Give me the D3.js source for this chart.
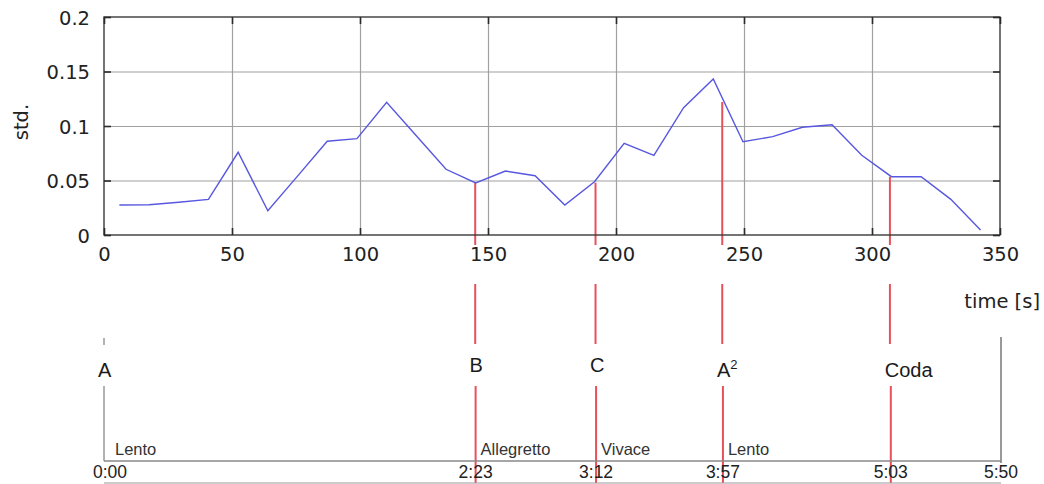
<!DOCTYPE html>
<html>
<head>
<meta charset="utf-8">
<script src="https://cdn.jsdelivr.net/npm/d3@7"></script>
<style>
  body { margin: 0; background: #fff; }
  svg { display: block; }
</style>
</head>
<body>
<svg width="1044" height="484"></svg>
<script>
// std. of the signal over time (seconds)
var timeSec = [6, 17.6, 29.2, 40.8, 52.4, 64, 75.6, 87.2, 98.8, 110.4, 122, 133.6, 145.2, 156.8, 168.4,
               180, 191.6, 203.2, 214.8, 226.4, 238, 249.6, 261.2, 272.8, 284.4, 296, 307.6, 319.2, 330.8, 342.4];
var stdVal  = [0.0275, 0.0278, 0.030, 0.0327, 0.0759, 0.0223, 0.054, 0.086, 0.0884, 0.1217, 0.091, 0.0603, 0.0477, 0.0587, 0.0544,
               0.0275, 0.0489, 0.0841, 0.0731, 0.1168, 0.1431, 0.0856, 0.0902, 0.0988, 0.1012, 0.0731, 0.0535, 0.0535, 0.0327, 0.0046];

var xTicks = [0, 50, 100, 150, 200, 250, 300, 350];
var yTicks = [0, 0.05, 0.1, 0.15, 0.2];

// section boundaries (red lines)
var markerSec = [145, 192, 241.5, 307];
var markerStd = [0.0477, 0.048, 0.122, 0.0535];

// timeline below
var sectionSec   = [0, 145, 192, 241.5, 307];
var sectionName  = ["A", "B", "C", "A2", "Coda"];
var tempoSec     = [0, 145, 192, 241.5];
var tempoName    = ["Lento", "Allegretto", "Vivace", "Lento"];
var timeLabelSec = [0, 145, 192, 241.5, 307, 350];
var timeLabel    = ["0:00", "2:23", "3:12", "3:57", "5:03", "5:50"];

var svg = d3.select("svg");
var margin = { top: 17, left: 104 },
    w = 896, h = 218;

var x = d3.scaleLinear().domain([0, 350]).range([0, w]);
var y = d3.scaleLinear().domain([0, 0.2]).range([h, 0]);

var g = svg.append("g").attr("transform", "translate(" + margin.left + "," + margin.top + ")");

// grid
g.append("g")
    .attr("transform", "translate(0," + h + ")")
    .call(d3.axisBottom(x).tickValues(xTicks.slice(1, -1)).tickSize(-h).tickFormat(""))
    .call(s => s.select(".domain").remove())
    .selectAll("line").attr("stroke", "#a0a0a0").attr("stroke-width", 1.2);
g.append("g")
    .call(d3.axisLeft(y).tickValues(yTicks.slice(1, -1)).tickSize(-w).tickFormat(""))
    .call(s => s.select(".domain").remove())
    .selectAll("line").attr("stroke", "#a0a0a0").attr("stroke-width", 1.2);

// red marker lines (upper part)
g.selectAll(".mk")
    .data(markerSec)
    .enter().append("line")
    .attr("x1", d => x(d)).attr("x2", d => x(d))
    .attr("y1", (d, i) => y(markerStd[i]))
    .attr("y2", h + 10)
    .attr("stroke", "#e8505a").attr("stroke-width", 2);

// data line
g.append("path")
    .datum(timeSec)
    .attr("fill", "none")
    .attr("stroke", "#5757e0")
    .attr("stroke-width", 1.4)
    .attr("d", d3.line().x(d => x(d)).y((d, i) => y(stdVal[i])));

// frame
g.append("rect").attr("width", w).attr("height", h)
    .attr("fill", "none").attr("stroke", "#3a3a3a").attr("stroke-width", 1.4);

// axes with inward ticks, mirrored
var tickFont = "'DejaVu Sans', sans-serif";
var xAx = g.append("g").attr("transform", "translate(0," + h + ")")
    .call(d3.axisBottom(x).tickValues(xTicks).tickSizeInner(-7).tickSizeOuter(0).tickPadding(26).tickFormat(String));
var yAx = g.append("g")
    .call(d3.axisLeft(y).tickValues(yTicks).tickSizeInner(-7).tickSizeOuter(0).tickPadding(14).tickFormat(String));
g.append("g").call(d3.axisTop(x).tickValues(xTicks).tickSizeInner(-7).tickSizeOuter(0).tickFormat(""));
g.append("g").attr("transform", "translate(" + w + ",0)")
    .call(d3.axisRight(y).tickValues(yTicks).tickSizeInner(-7).tickSizeOuter(0).tickFormat(""));

g.selectAll(".domain").remove();
g.selectAll(".tick line").filter(function() { return d3.select(this).attr("stroke") === "currentColor"; })
    .attr("stroke", "#2a2a2a").attr("stroke-width", 1.6);
g.selectAll(".tick text")
    .attr("font-family", tickFont).attr("font-size", "19.5px").attr("fill", "#222");
xAx.selectAll(".tick text").attr("dy", 0);
yAx.selectAll(".tick text").attr("dy", "0.36em");

svg.append("text")
    .attr("transform", "translate(28,122) rotate(-90)")
    .attr("text-anchor", "middle")
    .attr("font-family", tickFont).attr("font-size", "19.5px").attr("fill", "#222")
    .text("std.");
svg.append("text")
    .attr("x", 1040).attr("y", 308)
    .attr("text-anchor", "end")
    .attr("font-family", tickFont).attr("font-size", "19.5px").attr("fill", "#222")
    .text("time [s]");

// ---- timeline ----
var t = d3.scaleLinear().domain([0, 350]).range([104, 1001]);
var axisY = 461, lineFont = "'Liberation Sans', Arial, sans-serif";

// red lines through timeline
markerSec.forEach(function(d) {
    svg.append("line").attr("x1", x(d) + margin.left).attr("x2", x(d) + margin.left)
        .attr("y1", 284).attr("y2", 344)
        .attr("stroke", "#e8505a").attr("stroke-width", 2);
    svg.append("line").attr("x1", t(d)).attr("x2", t(d))
        .attr("y1", 386).attr("y2", 483)
        .attr("stroke", "#e8505a").attr("stroke-width", 2);
});

// gray boundary lines
svg.append("line").attr("x1", t(0)).attr("x2", t(0)).attr("y1", 338).attr("y2", 345)
    .attr("stroke", "#999").attr("stroke-width", 1.5);
svg.append("line").attr("x1", t(0)).attr("x2", t(0)).attr("y1", 386).attr("y2", axisY)
    .attr("stroke", "#999").attr("stroke-width", 1.5);
svg.append("line").attr("x1", t(350)).attr("x2", t(350)).attr("y1", 337).attr("y2", axisY + 2)
    .attr("stroke", "#777").attr("stroke-width", 1.5);

svg.append("line").attr("x1", t(0)).attr("x2", t(350)).attr("y1", axisY).attr("y2", axisY)
    .attr("stroke", "#888").attr("stroke-width", 1.5);
svg.append("line").attr("x1", t(0)).attr("x2", t(350)).attr("y1", 483).attr("y2", 483)
    .attr("stroke", "#999").attr("stroke-width", 1.2);

// section letters
var sec = svg.selectAll(".sec")
    .data(sectionSec)
    .enter().append("text")
    .attr("x", d => t(d) - 6)
    .attr("y", (d, i) => (i === 1 || i === 2) ? 372 : 377)
    .attr("font-family", lineFont).attr("font-size", "20px").attr("fill", "#1a1a1a");
sec.each(function(d, i) {
    var s = d3.select(this), name = sectionName[i];
    if (name === "A2") {
        s.append("tspan").text("A");
        s.append("tspan").attr("dy", -8).attr("font-size", "13px").text("2");
    } else {
        s.text(name);
    }
});

// tempo names
svg.selectAll(".tempo")
    .data(tempoSec)
    .enter().append("text")
    .attr("x", (d, i) => t(d) + (i === 0 ? 11 : 5))
    .attr("y", 455)
    .attr("font-family", lineFont).attr("font-size", "16.5px").attr("fill", "#333")
    .text((d, i) => tempoName[i]);

// time labels
svg.selectAll(".tl")
    .data(timeLabelSec)
    .enter().append("text")
    .attr("x", (d, i) => t(d) + (i === 0 ? 6 : 0))
    .attr("y", 478)
    .attr("text-anchor", "middle")
    .attr("font-family", lineFont).attr("font-size", "17.5px").attr("fill", "#222")
    .text((d, i) => timeLabel[i]);
</script>
</body>
</html>
